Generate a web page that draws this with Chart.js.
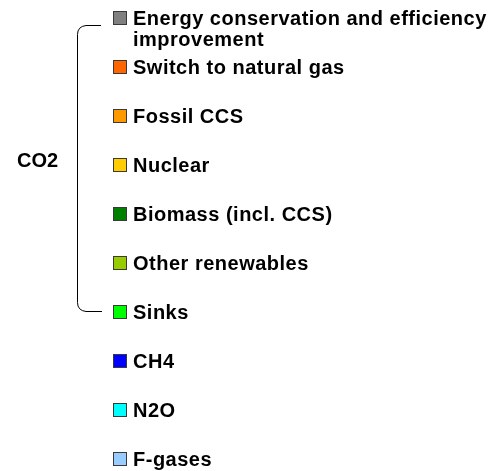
<!DOCTYPE html>
<html>
<head>
<meta charset="utf-8">
<script src="https://cdn.jsdelivr.net/npm/chart.js@4/dist/chart.umd.min.js"></script>
<style>
  body { margin: 0; background: #fff; }
</style>
</head>
<body>
<canvas id="myChart" width="490" height="471"></canvas>
<script>
// legend-only picture: no values are shown, so every series is empty
var categories = [''];
var seriesLabels = [
  ['Energy conservation and efficiency', 'improvement'],
  'Switch to natural gas',
  'Fossil CCS',
  'Nuclear',
  'Biomass (incl. CCS)',
  'Other renewables',
  'Sinks',
  'CH4',
  'N2O',
  'F-gases'
];
var seriesColors = ['#808080', '#FF6600', '#FF9900', '#FFCC00', '#008000',
                    '#99CC00', '#00FF00', '#0000FF', '#00FFFF', '#99CCFF'];
var seriesValues = [[null], [null], [null], [null], [null], [null], [null], [null], [null], [null]];
var groupLabel = 'CO2';
var groupSize = 7; // first seven series are CO2 measures

var FONT = 'bold 20px "Liberation Sans", Arial, sans-serif';

var legendPlugin = {
  id: 'sideLegend',
  afterDraw: function(chart) {
    var ctx = chart.ctx;
    ctx.save();
    ctx.font = FONT;
    ctx.letterSpacing = '0.5px';
    ctx.textBaseline = 'alphabetic';
    ctx.fillStyle = '#000';

    var baselines = [];
    var y = 25;
    chart.data.datasets.forEach(function(ds, i) {
      var lines = Array.isArray(ds.label) ? ds.label : [ds.label];
      baselines.push(y);
      // colour box
      ctx.fillStyle = ds.backgroundColor;
      ctx.fillRect(114, y - 13, 12, 12);
      ctx.strokeStyle = '#3a3a3a';
      ctx.lineWidth = 1;
      ctx.strokeRect(113.5, y - 13.5, 13, 13);
      ctx.fillStyle = '#000';
      lines.forEach(function(line, k) {
        ctx.fillText(line, 133, y + k * 21);
      });
      y += 49;
    });

    // bracket round the CO2 group
    var top = baselines[0] + 0.5;
    var bottom = baselines[groupSize - 1] - 7.5;
    ctx.strokeStyle = '#000';
    ctx.lineWidth = 1;
    ctx.beginPath();
    ctx.moveTo(101, top);
    ctx.lineTo(86, top);
    ctx.quadraticCurveTo(77.5, top + 1, 77.5, top + 9);
    ctx.lineTo(77.5, bottom - 9);
    ctx.quadraticCurveTo(77.5, bottom - 1, 86, bottom);
    ctx.lineTo(102, bottom);
    ctx.stroke();

    ctx.letterSpacing = '0px';
    ctx.fillText(groupLabel, 17, 167);
    ctx.restore();
  }
};

new Chart(document.getElementById('myChart'), {
  type: 'bar',
  data: {
    labels: categories,
    datasets: seriesLabels.map(function(label, i) {
      return {
        label: label,
        data: seriesValues[i],
        backgroundColor: seriesColors[i],
        borderColor: '#3a3a3a',
        borderWidth: 1
      };
    })
  },
  options: {
    responsive: false,
    animation: false,
    plugins: {
      legend: { display: false },
      tooltip: { enabled: false }
    },
    scales: {
      x: { stacked: true, display: false },
      y: { stacked: true, display: false }
    }
  },
  plugins: [legendPlugin]
});
</script>
</body>
</html>
